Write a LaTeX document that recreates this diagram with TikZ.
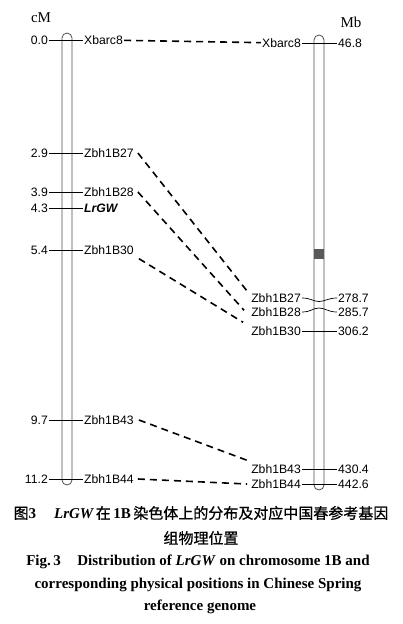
\documentclass[tikz,border=0pt]{standalone}
\usepackage{fontspec}
\setmainfont{Liberation Serif}
\newfontfamily\labfont{Liberation Sans}
\newfontfamily\cjk{Noto Sans CJK SC}[FakeBold=0.8]
\usepackage{xcolor}
\usepackage{tikz}
\usetikzlibrary{positioning}

\tikzset{
  lab/.style={font=\labfont\fontsize{12.2}{14}\selectfont, inner sep=1pt},
  numl/.style={lab, anchor=east},
  namel/.style={lab, anchor=west},
  unit/.style={font=\fontsize{15}{17}\selectfont, inner sep=1pt},
  chrom/.style={draw=black!70, line width=0.8pt, rounded corners=5pt},
  tick/.style={line width=0.7pt},
  link/.style={line width=1.6pt, dash pattern=on 7pt off 5pt},
  captext/.style={inner sep=0pt}
}

\begin{document}
\begin{tikzpicture}[x=1pt,y=-1pt]
  \useasboundingbox (0,0) rectangle (402,624);

  % chromosomes
  \draw[chrom] (62,33) rectangle (72,485);
  \draw[chrom] (314,35) rectangle (324,490);
  \fill[black!65] (314.4,249) rectangle (323.6,259);

  % genetic map (cM)
  \node[unit] (cM) at (41,18) {cM};
  \node[numl] (g0)  at (49,40)  {0.0};
  \node[numl] (g27) at (49,153) {2.9};
  \node[numl] (g28) at (49,192) {3.9};
  \node[numl] (ggw) at (49,208) {4.3};
  \node[numl] (g30) at (49,250) {5.4};
  \node[numl] (g43) at (49,420) {9.7};
  \node[numl] (g44) at (49,479) {11.2};
  \node[namel] (m0)  at (83,40)  {Xbarc8};
  \node[namel] (m27) at (83,153) {Zbh1B27};
  \node[namel] (m28) at (83,192) {Zbh1B28};
  \node[namel] (mgw) at (83,208) {\bfseries\itshape LrGW};
  \node[namel] (m30) at (83,250) {Zbh1B30};
  \node[namel] (m43) at (83,420) {Zbh1B43};
  \node[namel] (m44) at (83,479) {Zbh1B44};
  \draw[tick] (g0) -- (m0);
  \draw[tick] (g27) -- (m27);
  \draw[tick] (g28) -- (m28);
  \draw[tick] (ggw) -- (mgw);
  \draw[tick] (g30) -- (m30);
  \draw[tick] (g43) -- (m43);
  \draw[tick] (g44) -- (m44);

  % physical map (Mb)
  \node[unit] (Mb) at (351,22) {Mb};
  \node[numl] (r0)  at (302,43)  {Xbarc8};
  \node[numl] (r27) at (302,298) {Zbh1B27};
  \node[numl] (r28) at (302,312) {Zbh1B28};
  \node[numl] (r30) at (302,331) {Zbh1B30};
  \node[numl] (r43) at (302,469) {Zbh1B43};
  \node[numl] (r44) at (302,484) {Zbh1B44};
  \node[namel] (p0)  at (337,43)  {46.8};
  \node[namel] (p27) at (337,298) {278.7};
  \node[namel] (p28) at (337,312) {285.7};
  \node[namel] (p30) at (337,331) {306.2};
  \node[namel] (p43) at (337,469) {430.4};
  \node[namel] (p44) at (337,484) {442.6};
  \draw[tick] (r0) -- (p0);
  \draw[tick] (r27.east) .. controls +(9,0) and +(-6,0) .. (319,301.5)
    .. controls +(6,0) and +(-9,0) .. (p27.west);
  \draw[tick] (r28.east) .. controls +(9,0) and +(-6,0) .. (319,308)
    .. controls +(6,0) and +(-9,0) .. (p28.west);
  \draw[tick] (r30) -- (p30);
  \draw[tick] (r43) -- (p43);
  \draw[tick] (r44) -- (p44);

  % links between the maps
  \draw[link] (m0) -- (r0);
  \draw[link] ([xshift=3pt]m27.east) -- ([xshift=-2pt]r27.north west);
  \draw[link] ([xshift=3pt]m28.east) -- ([xshift=-6pt,yshift=-4pt]r28.north west);
  \draw[link] ([xshift=4pt,yshift=-3pt]m30.south east) -- ([xshift=-7pt,yshift=3pt]r30.north west);
  \draw[link] ([xshift=4pt]m43.east) -- ([xshift=-3pt,yshift=3pt]r43.north west);
  \draw[link] ([xshift=3pt]m44.east) -- ([xshift=-3pt]r44.west);

  % caption
  \node[captext] (capzh1) at (201,513) {\cjk\fontsize{15}{17}\selectfont
    图{\rmfamily\bfseries 3}\hspace{1.2em}{\rmfamily\bfseries\itshape LrGW}\,在\,{\rmfamily\bfseries 1B}\,染色体上的分布及对应中国春参考基因};
  \node[captext] (capzh2) at (201,538) {\cjk\fontsize{15}{17}\selectfont 组物理位置};
  \node[captext] (capen1) at (198,562) {\bfseries\fontsize{15}{17}\selectfont
    Fig.\,3\hspace{1.1em}Distribution of \textit{LrGW} on chromosome 1B and};
  \node[captext] (capen2) at (198,585) {\bfseries\fontsize{15}{17}\selectfont
    corresponding physical positions in Chinese Spring};
  \node[captext] (capen3) at (200,607) {\bfseries\fontsize{15}{17}\selectfont reference genome};
\end{tikzpicture}
\end{document}
